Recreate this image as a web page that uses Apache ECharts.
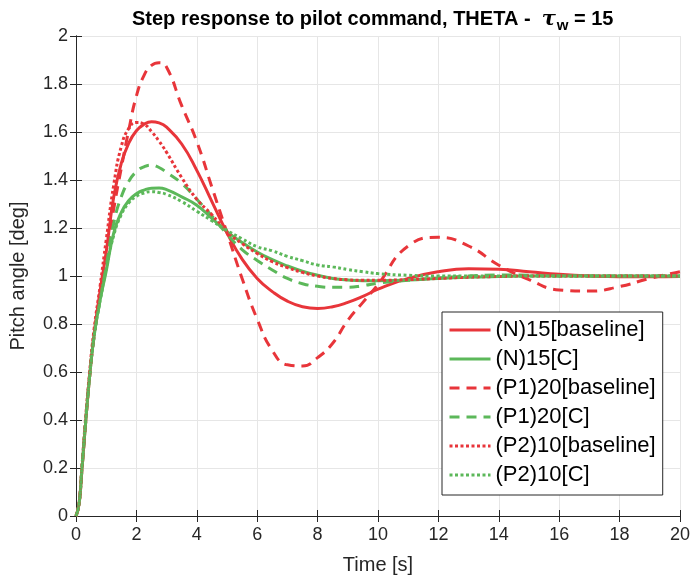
<!DOCTYPE html>
<html>
<head>
<meta charset="utf-8">
<script src="https://cdn.jsdelivr.net/npm/echarts@6/dist/echarts.min.js"></script>
<style>
  html, body { margin: 0; padding: 0; background: #fff; }
  #main { width: 693px; height: 581px; }
</style>
</head>
<body>
<div id="main"></div>
<script>
// time samples [s]
let time = [0, 0.1, 0.2, 0.3, 0.45, 0.6, 0.8, 1, 1.25, 1.5, 1.75, 2, 2.25, 2.5, 2.75, 3, 3.5, 4, 4.5, 5,
  5.5, 6, 6.5, 7, 7.5, 8, 8.5, 9, 9.5, 10, 11, 12, 13, 14, 15, 16, 17, 18, 19, 20]

let n15Base = [0, 0.05, 0.2, 0.36, 0.58, 0.76, 0.94, 1.1, 1.33, 1.47, 1.555, 1.605, 1.632, 1.643, 1.638, 1.62, 1.55, 1.44, 1.31, 1.18,
  1.07, 0.99, 0.935, 0.895, 0.872, 0.865, 0.872, 0.89, 0.915, 0.945, 0.99, 1.018, 1.03, 1.028, 1.018, 1.007, 1.0, 0.997, 0.997, 0.998]
let n15C = [0, 0.05, 0.2, 0.36, 0.58, 0.75, 0.9, 1.02, 1.18, 1.265, 1.315, 1.343, 1.358, 1.366, 1.367, 1.36, 1.33, 1.295, 1.24, 1.185,
  1.14, 1.1, 1.068, 1.042, 1.02, 1.003, 0.99, 0.983, 0.98, 0.98, 0.983, 0.99, 0.995, 0.998, 1, 1, 1, 1, 1, 1]
let p1Base = [0, 0.05, 0.2, 0.36, 0.58, 0.75, 0.92, 1.08, 1.28, 1.45, 1.61, 1.75, 1.835, 1.878, 1.889, 1.87, 1.71, 1.56, 1.37, 1.18,
  0.99, 0.82, 0.69, 0.63, 0.625, 0.66, 0.72, 0.815, 0.89, 0.965, 1.125, 1.161, 1.125, 1.045, 0.985, 0.942, 0.937, 0.956, 0.99, 1.018]
let p1C = [0, 0.05, 0.2, 0.36, 0.58, 0.75, 0.9, 1.04, 1.22, 1.33, 1.395, 1.435, 1.455, 1.462, 1.452, 1.432, 1.386, 1.32, 1.25, 1.175,
  1.11, 1.065, 1.025, 0.99, 0.968, 0.957, 0.953, 0.953, 0.96, 0.97, 0.982, 0.992, 1.0, 1.004, 1.003, 1.0, 1, 1, 1, 1]
let p2Base = [0, 0.05, 0.21, 0.38, 0.6, 0.78, 0.96, 1.15, 1.38, 1.54, 1.615, 1.64, 1.633, 1.602, 1.562, 1.515, 1.41, 1.32, 1.255, 1.185,
  1.135, 1.094, 1.06, 1.035, 1.015, 1.0, 0.99, 0.984, 0.982, 0.982, 0.985, 0.99, 0.995, 0.998, 1, 1, 1, 1, 1, 1]
let p2C = [0, 0.05, 0.21, 0.37, 0.58, 0.75, 0.9, 1.03, 1.17, 1.255, 1.305, 1.332, 1.346, 1.351, 1.348, 1.34, 1.31, 1.27, 1.23, 1.19,
  1.155, 1.122, 1.105, 1.082, 1.064, 1.046, 1.038, 1.027, 1.018, 1.01, 1.003, 1.0, 1, 1, 1, 1, 1, 1, 1, 1]

let names = ['(N)15[baseline]', '(N)15[C]', '(P1)20[baseline]', '(P1)20[C]', '(P2)10[baseline]', '(P2)10[C]']

let red = '#e8353a'
let green = '#5cb85a'
let axisColor = '#262626'
let font = 'Liberation Sans, Arial, sans-serif'

function pairs(vals) {
  return time.map(function (t, i) { return [t, vals[i]] })
}

function lineSeries(name, vals, color, type) {
  return {
    name: name,
    type: 'line',
    data: pairs(vals),
    symbol: 'none',
    smooth: 0.5,
    lineStyle: { color: color, width: 3, type: type, cap: 'butt' },
    itemStyle: { color: color },
    animation: false
  }
}

let chart = echarts.init(document.getElementById('main'))
let option = {
  backgroundColor: '#fff',
  textStyle: { fontFamily: font },
  title: {
    text: '{b|Step response to pilot command, THETA -  }{t|τ}{s|w}{b| = 15}',
    left: 127,
    top: 1,
    textStyle: {
      rich: {
        b: { fontFamily: font, fontWeight: 'bold', fontSize: 20, color: '#000' },
        t: { fontFamily: 'DejaVu Serif, serif', fontStyle: 'italic', fontSize: 21, color: '#000' },
        s: { fontFamily: font, fontWeight: 'bold', fontSize: 15, color: '#000', padding: [12, 0, 0, 1] }
      }
    }
  },
  grid: { left: 74, right: 9, top: 36, bottom: 65 },
  legend: {
    orient: 'vertical',
    left: 442,
    top: 312,
    data: names,
    itemWidth: 41,
    itemHeight: 16,
    itemGap: 7,
    padding: [7, 7, 9, 6],
    borderColor: axisColor,
    borderWidth: 1,
    borderRadius: 0,
    backgroundColor: '#fff',
    itemStyle: { opacity: 0 },
    lineStyle: { width: 3 },
    textStyle: { fontFamily: font, fontSize: 22, color: '#000' }
  },
  xAxis: [
    {
      type: 'value',
      min: 0,
      max: 20,
      interval: 2,
      name: 'Time [s]',
      nameLocation: 'middle',
      nameGap: 39,
      nameTextStyle: { fontFamily: font, fontSize: 20, color: axisColor },
      axisLine: { lineStyle: { color: axisColor, width: 1 } },
      axisTick: { inside: true, length: 6, lineStyle: { color: axisColor } },
      axisLabel: { fontFamily: font, fontSize: 18, color: axisColor, margin: 10 },
      splitLine: { show: true, lineStyle: { color: '#e6e6e6', width: 1 } }
    },
    {
      type: 'value',
      position: 'top',
      min: 0,
      max: 20,
      interval: 2,
      axisLine: { lineStyle: { color: axisColor, width: 1 } },
      axisTick: { inside: true, length: 6, lineStyle: { color: axisColor } },
      axisLabel: { show: false },
      splitLine: { show: false }
    }
  ],
  yAxis: [
    {
      type: 'value',
      min: 0,
      max: 2,
      interval: 0.2,
      name: 'Pitch angle [deg]',
      nameLocation: 'middle',
      nameGap: 48,
      nameTextStyle: { fontFamily: font, fontSize: 20, color: axisColor },
      axisLine: { show: true, lineStyle: { color: axisColor, width: 1 } },
      axisTick: { show: true, inside: true, length: 6, lineStyle: { color: axisColor } },
      axisLabel: { fontFamily: font, fontSize: 18, color: axisColor, margin: 8 },
      splitLine: { show: true, lineStyle: { color: '#e6e6e6', width: 1 } }
    },
    {
      type: 'value',
      position: 'right',
      min: 0,
      max: 2,
      interval: 0.2,
      axisLine: { show: true, lineStyle: { color: axisColor, width: 1 } },
      axisTick: { show: true, inside: true, length: 6, lineStyle: { color: axisColor } },
      axisLabel: { show: false },
      splitLine: { show: false }
    }
  ],
  series: [
    lineSeries(names[0], n15Base, red, 'solid'),
    lineSeries(names[1], n15C, green, 'solid'),
    lineSeries(names[2], p1Base, red, [10, 7]),
    lineSeries(names[3], p1C, green, [10, 7]),
    lineSeries(names[4], p2Base, red, [3, 2.5]),
    lineSeries(names[5], p2C, green, [3, 2.5])
  ]
}
chart.setOption(option)
</script>
</body>
</html>
